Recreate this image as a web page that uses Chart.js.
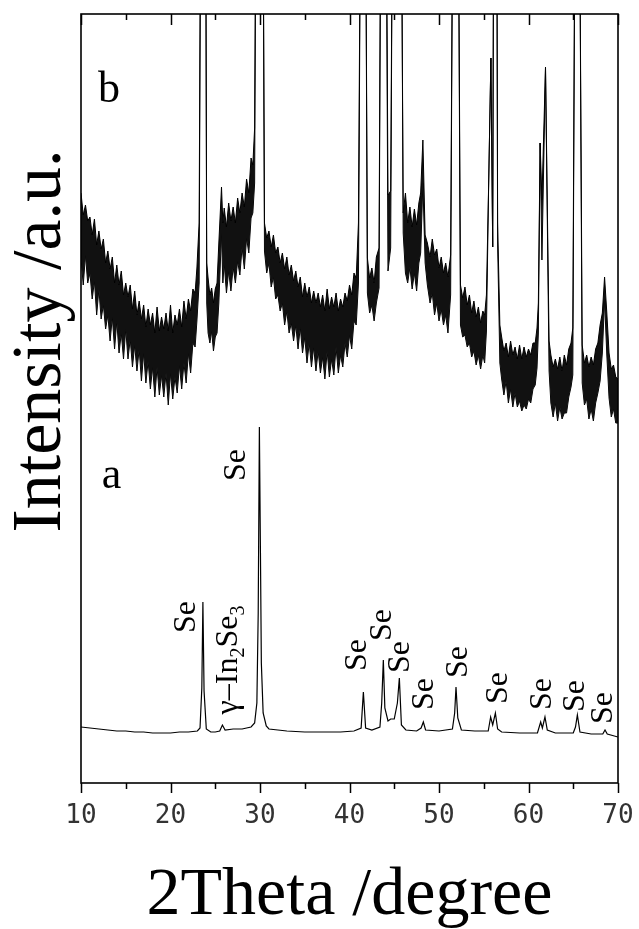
<!DOCTYPE html>
<html>
<head>
<meta charset="utf-8">
<script src="https://cdn.jsdelivr.net/npm/chart.js@4.4.1/dist/chart.umd.min.js"></script>
<style>
  body { margin: 0; background: #fff; }
  #wrap { width: 639px; height: 929px; position: relative; }
</style>
</head>
<body>
<div id="wrap"><canvas id="xrd"></canvas></div>
<script>
// pattern (a): 2theta and intensity
const aX = [10.0, 11.0, 12.0, 13.0, 14.0, 15.0, 16.0, 17.0, 18.0, 19.0, 20.0, 21.0, 22.0, 23.0,
  23.3, 23.5, 23.62, 23.75, 24.0, 24.5, 25.0, 25.5, 25.8, 26.1, 27.0, 28.0, 29.0, 29.4,
  29.65, 29.8, 29.93, 30.05, 30.15, 30.35, 30.7, 31.0, 32.0, 33.0, 35.0, 37.0, 39.0, 40.5,
  41.3, 41.55, 41.8, 42.5, 43.4, 43.6, 43.78, 43.95, 44.3, 44.6, 45.0, 45.35, 45.57, 45.8,
  46.3, 47.5, 48.0, 48.25, 48.5, 50.0, 51.5, 51.75, 51.9, 52.1, 52.5, 54.0, 55.5, 55.77,
  56.0, 56.3, 56.55, 57.0, 59.0, 61.0, 61.36, 61.55, 61.84, 62.1, 63.0, 65.0, 65.25, 65.46,
  65.75, 67.0, 68.3, 68.55, 68.8, 70.0];
const aY = [56, 55, 54, 53, 52, 52, 51, 51, 50, 50, 50, 51, 51, 52,
  55, 95, 181, 92, 54, 51, 51, 52, 58, 53, 54, 54, 56, 60,
  80, 170, 356, 230, 120, 70, 57, 54, 53, 52, 51, 51, 51, 52,
  55, 91, 55, 53, 56, 80, 123, 75, 62, 64, 64, 80, 105, 58,
  53, 52, 55, 61, 53, 52, 54, 70, 96, 65, 53, 52, 52, 66,
  58, 70, 54, 51, 50, 50, 61, 55, 66, 53, 50, 50, 56, 68,
  51, 49, 49, 53, 49, 46];

// pattern (b): noisy trace, upper and lower edge of the noise band
const bX = [
  10.0, 10.25, 10.5, 10.75, 11.0, 11.25, 11.5, 11.75, 12.0, 12.25, 12.5, 12.75,
  13.0, 13.25, 13.5, 13.75, 14.0, 14.25, 14.5, 14.75, 15.0, 15.25, 15.5, 15.75,
  16.0, 16.25, 16.5, 16.75, 17.0, 17.25, 17.5, 17.75, 18.0, 18.25, 18.5, 18.75,
  19.0, 19.25, 19.5, 19.75, 20.0, 20.25, 20.5, 20.75, 21.0, 21.25, 21.5, 21.75,
  22.0, 22.25, 22.5, 22.75, 22.95, 23.2, 23.42, 23.66, 23.9, 24.05,
  24.2, 24.4, 24.6, 24.8, 25.0, 25.2, 25.4, 25.7, 25.85, 26.0,
  26.25, 26.5, 26.75, 27.0, 27.25, 27.5, 27.75, 28.0, 28.25, 28.5, 28.75,
  29.0, 29.2, 29.4, 29.65, 29.95, 30.25,
  30.5, 30.75, 31.0, 31.25, 31.5, 31.75, 32.0, 32.25, 32.5, 32.75, 33.0, 33.25,
  33.5, 33.75, 34.0, 34.25, 34.5, 34.75, 35.0, 35.25, 35.5, 35.75, 36.0, 36.25,
  36.5, 36.75, 37.0, 37.25, 37.5, 37.75, 38.0, 38.25, 38.5, 38.75, 39.0, 39.25,
  39.5, 39.75, 40.0, 40.25, 40.5, 40.75, 41.0, 41.3, 41.5, 41.75,
  42.0, 42.25, 42.5, 42.75, 43.0, 43.3, 43.55, 43.8, 44.05, 44.3, 44.6,
  44.8, 45.3, 45.8, 46.0, 46.25, 46.5, 46.75, 47.0, 47.25, 47.5, 47.75, 47.95,
  48.2, 48.45, 48.7, 49.0, 49.25, 49.5, 49.75, 50.0, 50.25, 50.5, 50.75, 51.0,
  51.3, 51.6, 51.85, 52.1, 52.4, 52.65, 52.9, 53.15, 53.4, 53.65, 53.9, 54.15,
  54.4, 54.65, 54.9, 55.1, 55.3, 55.55, 55.8, 56.0, 56.3, 56.55,
  56.8, 57.0, 57.25, 57.5, 57.75, 58.0, 58.25, 58.5, 58.75, 59.0, 59.25, 59.5,
  59.75, 60.0, 60.25, 60.5, 60.75, 60.95, 61.1, 61.3, 61.5, 61.9, 62.3,
  62.5, 62.75, 63.0, 63.25, 63.5, 63.75, 64.0, 64.25, 64.5, 64.75, 64.95, 65.2,
  65.45, 65.7, 66.0, 66.25, 66.5, 66.75, 67.0, 67.25, 67.5, 67.75, 68.0, 68.25,
  68.5, 68.75, 69.0, 69.25, 69.5, 69.75, 70.0];
const bHi = [
  590, 568, 578, 562, 566, 548, 564, 538, 552, 534, 544, 520,
  532, 514, 526, 500, 518, 498, 512, 488, 500, 486, 498, 474,
  492, 468, 482, 464, 478, 456, 474, 458, 470, 450, 476, 452,
  466, 454, 470, 452, 478, 450, 468, 458, 474, 456, 482, 464,
  484, 472, 494, 490, 515, 560, 1000, 5000, 1000, 520,
  505, 488, 495, 480, 494, 500, 540, 596, 560, 575,
  556, 580, 562, 576, 560, 585, 570, 590, 576, 604, 590,
  625, 618, 655, 1100, 5000, 1100,
  560, 545, 552, 536, 548, 530, 536, 520, 530, 514, 526, 508,
  518, 502, 512, 496, 506, 486, 500, 486, 496, 480, 492, 480,
  490, 476, 488, 472, 494, 474, 486, 476, 490, 472, 484, 476,
  490, 482, 498, 488, 510, 505, 560, 1000, 5000, 1000,
  525, 505, 515, 500, 526, 535, 1000, 5000, 1000, 588, 592,
  900, 5000, 900, 570, 590, 560, 576, 556, 574, 558, 580, 590,
  643, 548, 540, 526, 544, 528, 534, 515, 526, 510, 520, 506,
  528, 1000, 5000, 1000, 498, 485, 496, 478, 488, 470, 482, 466,
  476, 460, 472, 468, 488, 600, 725, 536, 1500, 560,
  458, 446, 432, 440, 426, 442, 428, 436, 424, 438, 424, 436,
  426, 434, 428, 440, 440, 455, 480, 640, 583, 716, 442,
  428, 416, 424, 414, 426, 412, 428, 418, 434, 440, 455, 900,
  5000, 900, 438, 420, 428, 416, 426, 418, 434, 440, 458, 470,
  506, 470, 430, 414, 418, 406, 404];
const bLo = [
  525, 498, 528, 500, 510, 484, 502, 468, 494, 464, 478, 454,
  468, 442, 466, 434, 462, 430, 450, 424, 454, 424, 444, 416,
  438, 412, 434, 402, 430, 400, 422, 394, 416, 386, 416, 388,
  408, 386, 410, 378, 410, 384, 406, 390, 418, 394, 420, 400,
  430, 410, 440, 436, 462, 500, 1000, 5000, 1000, 480,
  450, 440, 452, 432, 446, 450, 480, 550, 500, 520,
  490, 512, 492, 516, 500, 522, 508, 536, 514, 545, 530,
  565, 570, 600, 1100, 5000, 1100,
  532, 510, 520, 496, 506, 484, 488, 472, 480, 458, 472, 450,
  460, 442, 458, 434, 456, 430, 446, 420, 440, 416, 436, 412,
  432, 410, 426, 404, 432, 406, 424, 408, 436, 410, 428, 416,
  440, 426, 448, 434, 462, 458, 500, 1000, 5000, 1000,
  490, 470, 478, 462, 480, 495, 1000, 5000, 1000, 512, 535,
  900, 5000, 900, 550, 510, 500, 516, 494, 510, 492, 520, 530,
  600, 520, 498, 480, 490, 468, 480, 462, 474, 458, 468, 450,
  488, 1000, 5000, 1000, 458, 446, 448, 436, 440, 426, 432, 418,
  428, 414, 428, 420, 452, 600, 725, 536, 1500, 540,
  420, 404, 388, 402, 380, 394, 376, 390, 376, 382, 372, 378,
  374, 384, 380, 394, 398, 415, 450, 640, 523, 716, 412,
  380, 366, 380, 362, 376, 364, 370, 370, 386, 396, 408, 900,
  5000, 900, 400, 378, 384, 364, 374, 362, 380, 390, 402, 430,
  483, 428, 385, 366, 374, 360, 360];

const xTicks = [10, 20, 30, 40, 50, 60, 70];

// peak labels (2theta, intensity of label centre)
const seLabelX = [21.6, 27.1, 40.7, 43.5, 45.5, 48.2, 51.9, 56.4, 61.3, 65.0, 68.1];
const seLabelY = [166, 318, 128, 158, 126, 89, 121, 95, 89, 87, 75];

const toPoints = (xs, ys) => xs.map((x, i) => ({ x: x, y: ys[i] }));

const serif = '"Liberation Serif", "Times New Roman", serif';

const decorations = {
  id: "decorations",
  afterDatasetsDraw(chart) {
    const ctx = chart.ctx;
    const area = chart.chartArea;
    const xs = chart.scales.x;
    const ys = chart.scales.y;

    ctx.save();
    ctx.strokeStyle = "#000";
    ctx.fillStyle = "#000";

    // frame
    ctx.lineWidth = 1.6;
    ctx.strokeRect(area.left, area.top, area.right - area.left, area.bottom - area.top);

    // bottom ticks point out, top ticks point in
    ctx.lineWidth = 1.5;
    for (let v = 10; v <= 70; v += 5) {
      const px = Math.round(xs.getPixelForValue(v)) + 0.5;
      const major = v % 10 === 0;
      ctx.beginPath();
      ctx.moveTo(px, area.bottom);
      ctx.lineTo(px, area.bottom + (major ? 10 : 6));
      ctx.moveTo(px, area.top);
      ctx.lineTo(px, area.top + (major ? 11 : 6));
      ctx.stroke();
    }

    // peak labels, rotated
    const fs = 32;
    ctx.font = fs + "px " + serif;
    ctx.textBaseline = "alphabetic";
    seLabelX.forEach((x, i) => {
      const px = xs.getPixelForValue(x);
      const py = ys.getPixelForValue(seLabelY[i]);
      ctx.save();
      ctx.translate(px + fs * 0.33, py);
      ctx.rotate(-Math.PI / 2);
      ctx.textAlign = "center";
      ctx.fillText("Se", 0, 0);
      ctx.restore();
    });

    // gamma-In2Se3 label with subscripts
    const parts = [["γ–In", false], ["2", true], ["Se", false], ["3", true]];
    const subFs = Math.round(fs * 0.62);
    let total = 0;
    parts.forEach(([t, sub]) => {
      ctx.font = (sub ? subFs : fs) + "px " + serif;
      total += ctx.measureText(t).width;
    });
    const gx = xs.getPixelForValue(26.25);
    const gy = ys.getPixelForValue(123);
    ctx.save();
    ctx.translate(gx + fs * 0.33, gy);
    ctx.rotate(-Math.PI / 2);
    ctx.textAlign = "left";
    let cx = -total / 2;
    parts.forEach(([t, sub]) => {
      ctx.font = (sub ? subFs : fs) + "px " + serif;
      ctx.fillText(t, cx, sub ? fs * 0.22 : 0);
      cx += ctx.measureText(t).width;
    });
    ctx.restore();

    // pattern letters
    ctx.font = "44px " + serif;
    ctx.textAlign = "left";
    ctx.fillText("b", xs.getPixelForValue(11.9), ys.getPixelForValue(681));
    ctx.fillText("a", xs.getPixelForValue(12.31), ys.getPixelForValue(295));

    // axis titles
    ctx.font = "68px " + serif;
    ctx.textAlign = "center";
    ctx.fillText("2Theta /degree", (area.left + area.right) / 2, 914);

    ctx.font = "70px " + serif;
    ctx.save();
    ctx.translate(60, 341);
    ctx.rotate(-Math.PI / 2);
    ctx.fillText("Intensity /a.u.", 0, 0);
    ctx.restore();

    ctx.restore();
  }
};

new Chart(document.getElementById("xrd"), {
  type: "line",
  data: {
    datasets: [
      {
        label: "b upper",
        data: toPoints(bX, bHi),
        borderColor: "#000",
        borderWidth: 1,
        backgroundColor: "#111",
        fill: "+1",
        pointRadius: 0,
        tension: 0
      },
      {
        label: "b lower",
        data: toPoints(bX, bLo),
        borderColor: "#000",
        borderWidth: 1,
        fill: false,
        pointRadius: 0,
        tension: 0
      },
      {
        label: "a",
        data: toPoints(aX, aY),
        borderColor: "#000",
        borderWidth: 1.2,
        fill: false,
        pointRadius: 0,
        tension: 0
      }
    ]
  },
  options: {
    responsive: true,
    maintainAspectRatio: false,
    animation: false,
    layout: { padding: { left: 81, top: 14, right: 21, bottom: 0 } },
    plugins: {
      legend: { display: false },
      tooltip: { enabled: false }
    },
    scales: {
      x: {
        type: "linear",
        min: 10,
        max: 70,
        afterBuildTicks: (scale) => {
          scale.ticks = xTicks.map((v) => ({ value: v }));
        },
        afterFit: (scale) => {
          scale.height = 146;
          scale.paddingLeft = 0;
          scale.paddingRight = 0;
        },
        grid: { display: false, drawTicks: false },
        border: { display: false },
        ticks: {
          padding: 18,
          color: "#333",
          font: { family: '"DejaVu Sans Mono", monospace', size: 26 }
        }
      },
      y: {
        type: "linear",
        min: 0,
        max: 769,
        display: false
      }
    }
  },
  plugins: [decorations]
});
</script>
</body>
</html>
